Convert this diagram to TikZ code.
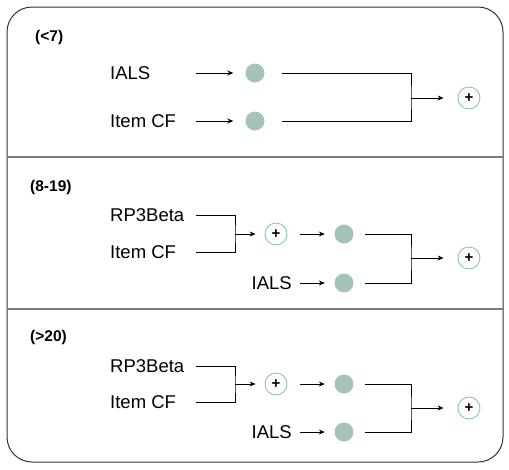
\documentclass[tikz,border=0pt]{standalone}
\usepackage{fontspec}
\setmainfont{Liberation Sans}
\usetikzlibrary{arrows.meta}
\definecolor{dotfill}{HTML}{A5C3B6}
\definecolor{ringcol}{HTML}{7CC3A6}
\definecolor{framecol}{HTML}{333333}
\definecolor{divcol}{HTML}{7A7A7A}
\begin{document}
\begin{tikzpicture}[x=1pt,y=-1pt,
 lbl/.style={inner sep=0pt,font=\fontsize{18.5}{21}\selectfont},
 hdr/.style={anchor=west,inner sep=0pt,font=\bfseries\fontsize{15.5}{17}\selectfont},
 dot/.style={circle,fill=dotfill,minimum size=19pt,inner sep=0pt},
 ring/.style={circle,draw=ringcol,line width=0.8pt,minimum size=22pt,inner sep=0pt,font=\bfseries\fontsize{15}{16}\selectfont},
 arr/.style={-{Stealth[length=6pt,width=5pt]},line width=0.9pt},
 wire/.style={line width=0.9pt}]
\useasboundingbox (0,0) rectangle (509,469);
% frame
\draw[framecol,line width=1pt,rounded corners=25pt] (7,7) rectangle (503,462);
\draw[divcol,line width=1.5pt] (7,157) -- (503,157);
\draw[divcol,line width=1.5pt] (7,309) -- (503,309);

% ---- section 1
\node[hdr] (h1) at (35,37) {(<7)};
\node[lbl,anchor=west] (a1) at (110,73) {IALS};
\node[lbl,anchor=west] (b1) at (110,121) {Item CF};
\coordinate (a1s) at (196,73);
\coordinate (b1s) at (196,121);
\node[dot] (d1a) at (255,73) {};
\node[dot] (d1b) at (255,121) {};
\node[ring] (p1) at (469,98) {+};
\coordinate (j1) at (411,98);
\draw[arr] (a1s) -- ([xshift=-12pt]d1a.west);
\draw[arr] (b1s) -- ([xshift=-12pt]d1b.west);
\draw[wire] ([xshift=17pt]d1a.east) -| (j1) |- ([xshift=17pt]d1b.east);
\draw[arr] (j1) -- ([xshift=-14pt]p1.west);

% ---- section 2
\node[hdr] (h2) at (30,187) {(8-19)};
\node[lbl,anchor=west] (r2) at (110,215) {RP3Beta};
\node[lbl,anchor=west] (c2) at (110,252) {Item CF};
\node[lbl,anchor=east] (i2) at (292,283) {IALS};
\coordinate (r2s) at (196,215);
\coordinate (c2s) at (196,252);
\coordinate (i2s) at (300,283);
\coordinate (k2) at (235,234);
\node[ring] (q2) at (276,234) {+};
\node[dot] (d2a) at (344,234) {};
\node[dot] (d2b) at (344,283) {};
\coordinate (j2) at (411,258);
\node[ring] (p2) at (469,258) {+};
\draw[wire] (r2s) -| (k2) |- (c2s);
\draw[arr] (k2) -- ([xshift=-9pt]q2.west);
\draw[arr] ([xshift=13pt]q2.east) -- ([xshift=-9.5pt]d2a.west);
\draw[arr] (i2s) -- ([xshift=-9.5pt]d2b.west);
\draw[wire] ([xshift=11.5pt]d2a.east) -| (j2) |- ([xshift=11.5pt]d2b.east);
\draw[arr] (j2) -- ([xshift=-14pt]p2.west);

% ---- section 3
\node[hdr] (h3) at (30,337) {(>20)};
\node[lbl,anchor=west] (r3) at (110,366) {RP3Beta};
\node[lbl,anchor=west] (c3) at (110,402) {Item CF};
\node[lbl,anchor=east] (i3) at (292,432) {IALS};
\coordinate (r3s) at (196,366);
\coordinate (c3s) at (196,402);
\coordinate (i3s) at (300,432);
\coordinate (k3) at (235,384);
\node[ring] (q3) at (276,384) {+};
\node[dot] (d3a) at (344,384) {};
\node[dot] (d3b) at (344,432) {};
\coordinate (j3) at (411,408);
\node[ring] (p3) at (469,408) {+};
\draw[wire] (r3s) -| (k3) |- (c3s);
\draw[arr] (k3) -- ([xshift=-9pt]q3.west);
\draw[arr] ([xshift=13pt]q3.east) -- ([xshift=-9.5pt]d3a.west);
\draw[arr] (i3s) -- ([xshift=-9.5pt]d3b.west);
\draw[wire] ([xshift=11.5pt]d3a.east) -| (j3) |- ([xshift=11.5pt]d3b.east);
\draw[arr] (j3) -- ([xshift=-14pt]p3.west);
\end{tikzpicture}
\end{document}
